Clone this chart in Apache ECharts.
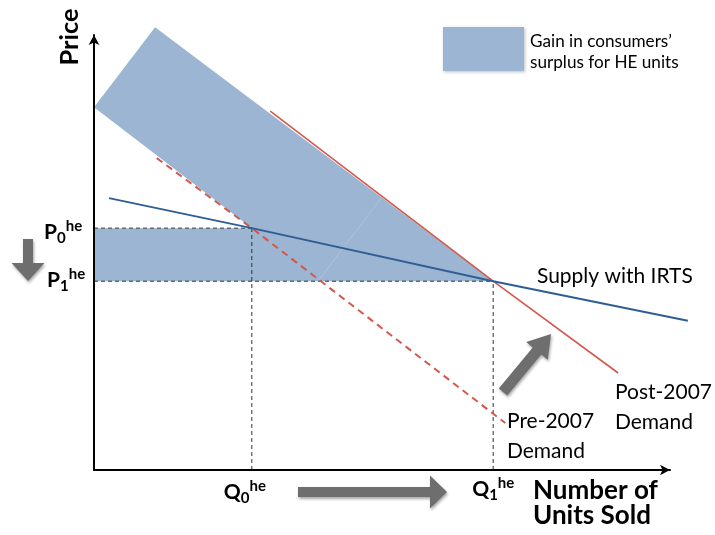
<!DOCTYPE html>
<html><head><meta charset="utf-8">
<script src="https://cdn.jsdelivr.net/npm/echarts@6/dist/echarts.min.js"></script>
<style>html,body{margin:0;padding:0;background:#fff}#c{width:715px;height:535px}</style>
</head><body><div id="c"></div>
<script>
// ---- data (axis units: x 0..100 quantity, y 0..100 price) ----
const Q0 = 27.4, Q1 = 69.3;
const P0 = 55.6, P1 = 43.4;
const supplyX = [2.6, 27.4, 69.3, 103.1];
const supplyY = [62.5, 55.6, 43.4, 34.3];
const preDemandX = [10.9, 27.4, 71.4];
const preDemandY = [71.7, 55.6, 10.8];
const postDemandX = [30.6, 69.3, 91.0];
const postDemandY = [82.5, 43.4, 22.3];
const gainX = [0, 10.6, 69.3, 0, 0, 27.4];
const gainY = [83.4, 101.8, 43.4, 43.4, 55.6, 55.6];
const seamX = [38.9, 50.0];
const seamY = [43.4, 62.8];
const tickLetters = ['P', 'P', 'Q', 'Q'];
const tickSubs = ['0', '1', '0', '1'];

const zip = (a, b) => a.map((v, i) => [v, b[i]]);
const FONT = 'Lato';
const SHADE = '#9BB5D2';
const RED = '#D4584A';
const BLUE = '#2F5E95';
const GREY = '#6E6E6E';

const cnv = document.createElement('canvas').getContext('2d');
function fit(text, weight, target) {
  cnv.font = weight + ' 100px ' + FONT;
  return 100 * target / cnv.measureText(text).width;
}

const chart = echarts.init(document.getElementById('c'));
const axisCommon = {
  type: 'value', min: 0, max: 100, z: 10,
  axisLine: { show: true, onZero: false, lineStyle: { color: '#000', width: 2 }, symbol: ['none', 'arrow'], symbolSize: [8, 10] },
  axisTick: { show: false }, axisLabel: { show: false }, splitLine: { show: false }
};
const dashed = { color: '#333', width: 1, type: [4, 3] };

function polyline(xs, ys, style, z) {
  return {
    type: 'custom', clip: false, z: z, data: [0],
    renderItem: function (params, api) {
      return { type: 'polyline', shape: { points: zip(xs, ys).map(p => api.coord(p)) }, style: Object.assign({ fill: null }, style) };
    }
  };
}

chart.setOption({
  animation: false,
  grid: { left: 94, right: 45, top: 35, bottom: 65 },
  xAxis: axisCommon,
  yAxis: axisCommon,
  series: [
    {
      type: 'custom', clip: false, z: 1,
      data: [0],
      renderItem: function (params, api) {
        const pts = zip(gainX, gainY).map(p => api.coord(p));
        return { type: 'polygon', shape: { points: pts }, style: { fill: SHADE } };
      }
    },
    polyline(seamX, seamY, { stroke: '#AEC4DC', lineWidth: 1 }, 2),
    { type: 'line', clip: false, z: 3, symbol: 'none', data: [[0, P0], [Q0, P0]], lineStyle: dashed },
    { type: 'line', clip: false, z: 3, symbol: 'none', data: [[0, P1], [Q1, P1]], lineStyle: dashed },
    { type: 'line', clip: false, z: 3, symbol: 'none', data: [[Q0, 0], [Q0, P0]], lineStyle: dashed },
    { type: 'line', clip: false, z: 3, symbol: 'none', data: [[Q1, 0], [Q1, P1]], lineStyle: dashed },
    { type: 'line', clip: false, z: 4, symbol: 'none', data: zip(preDemandX, preDemandY), lineStyle: { color: RED, width: 2, type: [7, 5] } },
    { type: 'line', clip: false, z: 4, symbol: 'none', data: zip(postDemandX, postDemandY), lineStyle: { color: RED, width: 1.6 } },
    polyline(supplyX, supplyY, { stroke: BLUE, lineWidth: 2 }, 5)
  ]
});

function txt(text, x, y, size, weight, extra) {
  return Object.assign({
    type: 'text', x: x, y: y, z: 20,
    style: { text: text, font: weight + ' ' + size + 'px ' + FONT, fill: '#000', align: 'left', verticalAlign: 'middle' }
  }, extra || {});
}
function arrow(tail, tip, shaftW, headW, headL) {
  const dx = tip[0] - tail[0], dy = tip[1] - tail[1];
  const L = Math.hypot(dx, dy), ux = dx / L, uy = dy / L, nx = -uy, ny = ux;
  const bx = tip[0] - ux * headL, by = tip[1] - uy * headL;
  const p = (x, y, s) => [x + nx * s, y + ny * s];
  const pts = [p(tail[0], tail[1], shaftW / 2), p(bx, by, shaftW / 2), p(bx, by, headW / 2), tip,
    p(bx, by, -headW / 2), p(bx, by, -shaftW / 2), p(tail[0], tail[1], -shaftW / 2)];
  return { type: 'polygon', z: 15, shape: { points: pts },
    style: { fill: GREY, shadowBlur: 3, shadowColor: 'rgba(0,0,0,0.35)', shadowOffsetX: 1, shadowOffsetY: 2 } };
}

const g = [];
// legend
g.push({ type: 'rect', z: 15, shape: { x: 443, y: 27, width: 81, height: 44 },
  style: { fill: SHADE, shadowBlur: 3, shadowColor: 'rgba(0,0,0,0.25)', shadowOffsetX: 1, shadowOffsetY: 1 } });
const legSize = fit("Gain in consumers\u2019", 'normal', 142);
g.push(txt("Gain in consumers\u2019", 530, 41, legSize, 'normal'));
g.push(txt('surplus for HE units', 530, 62, legSize, 'normal'));
// axis titles
const priceSize = fit('Price', 'bold', 57);
g.push({ type: 'text', x: 70, y: 37, z: 20, rotation: Math.PI / 2,
  style: { text: 'Price', font: 'bold ' + priceSize + 'px ' + FONT, fill: '#000', align: 'center', verticalAlign: 'middle' } });
const numSize = fit('Number of', 'bold', 125);
g.push(txt('Number of', 533, 491, numSize, 'bold'));
g.push(txt('Units Sold', 533, 516, numSize, 'bold'));
// curve labels
const lblSize = fit('Post-2007', 'normal', 97);
g.push(txt('Supply with IRTS', 537, 276, lblSize, 'normal'));
g.push(txt('Post-2007', 615, 392, lblSize, 'normal'));
g.push(txt('Demand', 615, 422, lblSize, 'normal'));
g.push(txt('Pre-2007', 507, 421, lblSize, 'normal'));
g.push(txt('Demand', 507, 451, lblSize, 'normal'));
// P / Q tick labels
const pPix0 = chart.convertToPixel({ gridIndex: 0 }, [0, P0]);
const pPix1 = chart.convertToPixel({ gridIndex: 0 }, [0, P1]);
const qPix0 = chart.convertToPixel({ gridIndex: 0 }, [Q0, 0]);
const qPix1 = chart.convertToPixel({ gridIndex: 0 }, [Q1, 0]);
function tick(letter, sub, x, y) {
  g.push(txt(letter, x, y, 21, 'bold'));
  cnv.font = 'bold 21px ' + FONT;
  const w = cnv.measureText(letter).width;
  g.push(txt(sub, x + w, y + 6, 15, 'bold'));
  cnv.font = 'bold 15px ' + FONT;
  const w2 = cnv.measureText(sub).width;
  g.push(txt('he', x + w + w2, y - 6, 15, 'bold'));
}
tick(tickLetters[0], tickSubs[0], 44, pPix0[1] + 4);
tick(tickLetters[1], tickSubs[1], 47, pPix1[1] - 1);
tick(tickLetters[2], tickSubs[2], qPix0[0] - 28, 492);
tick(tickLetters[3], tickSubs[3], qPix1[0] - 21, 489);
// arrows
g.push(arrow([28, 239], [28, 281], 10, 33, 18));
g.push(arrow([298, 492], [447, 492], 10, 33, 17));
g.push(arrow([503, 392], [551, 334], 11, 28, 22));
chart.setOption({ graphic: g });
</script>
</body></html>
